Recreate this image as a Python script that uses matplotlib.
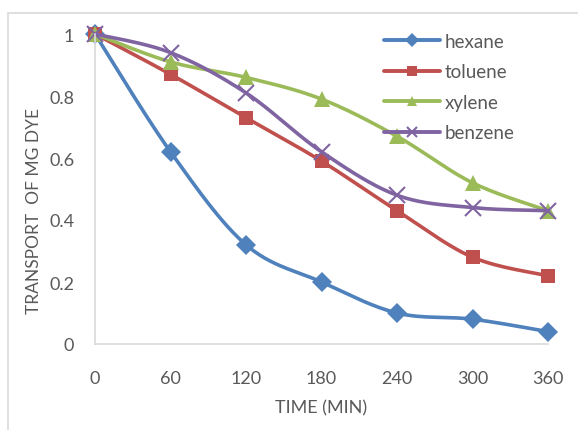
import numpy as np
import matplotlib.pyplot as plt
from matplotlib.patches import Rectangle

time_min = [0, 60, 120, 180, 240, 300, 360]
hexane = [1.0, 0.62, 0.32, 0.20, 0.10, 0.08, 0.04]
toluene = [1.0, 0.87, 0.73, 0.59, 0.43, 0.28, 0.22]
xylene = [1.0, 0.91, 0.86, 0.79, 0.67, 0.52, 0.43]
benzene = [1.0, 0.94, 0.81, 0.62, 0.48, 0.44, 0.43]

text_col = '#595959'
plt.rcParams['font.family'] = ['Lato', 'DejaVu Sans']


def smooth(x, y, n=30):
    # excel-like smoothed line: bezier with catmull-rom control points
    p = np.column_stack([x, y]).astype(float)
    p = np.vstack([p[0], p, p[-1]])
    out = []
    for i in range(1, len(p) - 2):
        p0, p3 = p[i], p[i + 1]
        c1 = p0 + (p[i + 1] - p[i - 1]) / 6
        c2 = p3 - (p[i + 2] - p[i]) / 6
        t = np.linspace(0, 1, n)[:, None]
        out.append((1 - t) ** 3 * p0 + 3 * (1 - t) ** 2 * t * c1 + 3 * (1 - t) * t ** 2 * c2 + t ** 3 * p3)
    out = np.vstack(out)
    return out[:, 0], out[:, 1]


fig = plt.figure(figsize=(5.78, 4.31), dpi=100)
fig.patches.append(Rectangle((8 / 578, -0.1), 1.2, 1 - 14 / 431 + 0.1, transform=fig.transFigure,
                             fill=False, edgecolor='#d9d9d9', linewidth=1.2))
ax = fig.add_axes([95 / 578, 86 / 431, 453 / 578, 310 / 431])

series = [
    ('hexane', hexane, '#4F81BD', 'D', 10),
    ('toluene', toluene, '#C0504D', 's', 10.5),
    ('xylene', xylene, '#9BBB59', '^', 11.5),
    ('benzene', benzene, '#8064A2', 'x', 11),
]
for name, vals, col, mk, ms in series:
    sx, sy = smooth(time_min, vals)
    ax.plot(sx, sy, color=col, linewidth=2.6, clip_on=False, solid_capstyle='round')
    ax.plot(time_min, vals, linestyle='none', marker=mk, markersize=ms, color=col,
            markeredgewidth=1.5 if mk == 'x' else 0, clip_on=False)
    ax.plot([], [], color=col, linewidth=2.8, marker=mk, markersize=7,
            markeredgewidth=1.5 if mk == 'x' else 0, label=name, solid_capstyle='round')

ax.set_xlim(0, 360)
ax.set_ylim(0, 1)
ax.set_xticks(time_min)
ax.set_yticks([0, 0.2, 0.4, 0.6, 0.8, 1])
ax.set_yticklabels(['0', '0.2', '0.4', '0.6', '0.8', '1'])
ax.tick_params(length=0, labelsize=13, colors=text_col)
ax.tick_params(axis='x', pad=19)
ax.tick_params(axis='y', pad=15)
for s in ['top', 'right']:
    ax.spines[s].set_visible(False)
for s in ['left', 'bottom']:
    ax.spines[s].set_color('#d9d9d9')
    ax.spines[s].set_linewidth(1.2)

ax.set_xlabel('TIME (MIN)', fontsize=13, color=text_col)
ax.set_ylabel('TRANSPORT  OF MG DYE', fontsize=12.5, color=text_col)
ax.xaxis.set_label_coords(0.5, -55 / 310)
ax.yaxis.set_label_coords((42 - 95) / 453, (431 - 211 - 86) / 310)

leg = ax.legend(loc='upper left', bbox_to_anchor=((376 - 95) / 453, 1.028), frameon=False,
                fontsize=13.5, handlelength=3.0, handletextpad=0.25, labelspacing=0.72,
                borderaxespad=0)
for t in leg.get_texts():
    t.set_color(text_col)

fig.savefig('out.png', dpi=100)
